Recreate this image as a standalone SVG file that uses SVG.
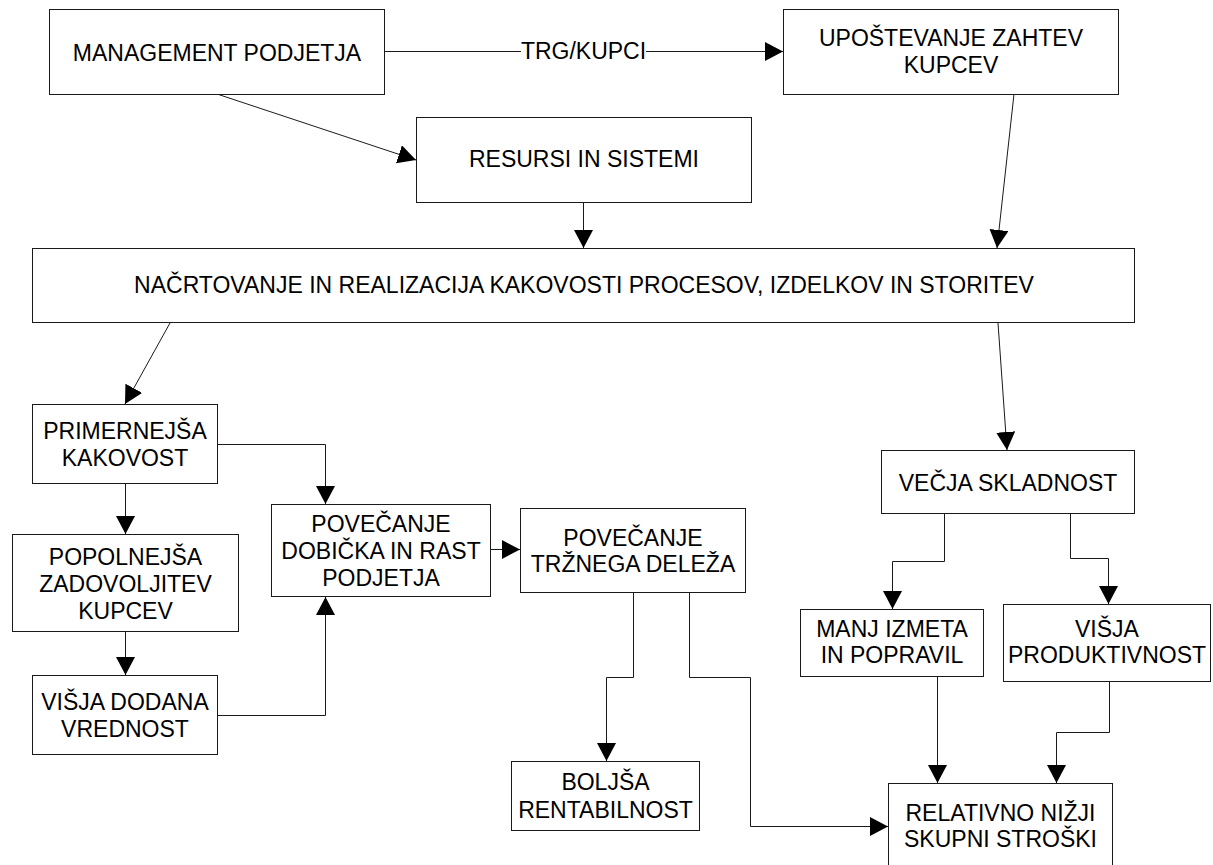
<svg xmlns="http://www.w3.org/2000/svg" width="1213" height="865" viewBox="0 0 1213 865">
<style>
.box{fill:#fff;stroke:#1a1a1a;stroke-width:1}
.t{font-family:"Liberation Sans",Arial,sans-serif;font-size:23px;fill:#000;text-anchor:middle}
.c{fill:none;stroke:#1a1a1a;stroke-width:1;marker-end:url(#ah)}
</style>
<defs>
<marker id="ah" markerUnits="userSpaceOnUse" viewBox="0 0 18 19" refX="18" refY="9.5" markerWidth="18" markerHeight="19" orient="auto">
<path d="M0,0 L18,9.5 L0,19 z" fill="#000"/>
</marker>
</defs>
<g id="connectors">
<path class="c" d="M385,51.5 H521 M646,51.5 H783"/>
<path class="c" d="M217,94 L416,160"/>
<path class="c" d="M583.5,202 V248"/>
<path class="c" d="M1014,94 L997,248"/>
<path class="c" d="M170,323 L125,404"/>
<path class="c" d="M998,323 L1007,450"/>
<path class="c" d="M125.5,484 V534"/>
<path class="c" d="M125.5,632 V675"/>
<path class="c" d="M218,444.5 H325.5 V504"/>
<path class="c" d="M218,715.5 H325.5 V597"/>
<path class="c" d="M491,549.5 H520"/>
<path class="c" d="M633.5,593 V677.5 H606.5 V761"/>
<path class="c" d="M689.5,593 V677.5 H750.5 V826.5 H888"/>
<path class="c" d="M944.5,514 V561.5 H892.5 V609"/>
<path class="c" d="M1070.5,514 V558.5 H1108.5 V604"/>
<path class="c" d="M937.5,677 V783"/>
<path class="c" d="M1109.5,682 V732.5 H1056.5 V783"/>
</g>
<text class="t" x="583.5" y="59">TRG/KUPCI</text>
<g id="n_management"><rect class="box" x="49.5" y="9.5" width="335" height="85"/><text class="t" x="217" y="61">MANAGEMENT PODJETJA</text></g>
<g id="n_upostevanje"><rect class="box" x="783.5" y="9.5" width="335" height="85"/><text class="t" x="951" y="46">UPOŠTEVANJE ZAHTEV</text><text class="t" x="951" y="73">KUPCEV</text></g>
<g id="n_resursi"><rect class="box" x="416.5" y="117.5" width="335" height="85"/><text class="t" x="584" y="167">RESURSI IN SISTEMI</text></g>
<g id="n_nacrtovanje"><rect class="box" x="32.5" y="248.5" width="1102" height="74"/><text class="t" x="584" y="293">NAČRTOVANJE IN REALIZACIJA KAKOVOSTI PROCESOV, IZDELKOV IN STORITEV</text></g>
<g id="n_primernejsa"><rect class="box" x="32.5" y="404.5" width="185" height="79"/><text class="t" x="125" y="439">PRIMERNEJŠA</text><text class="t" x="125" y="466">KAKOVOST</text></g>
<g id="n_popolnejsa"><rect class="box" x="12.5" y="534.5" width="226" height="97"/><text class="t" x="125.5" y="565">POPOLNEJŠA</text><text class="t" x="125.5" y="592">ZADOVOLJITEV</text><text class="t" x="125.5" y="619">KUPCEV</text></g>
<g id="n_visja_dodana"><rect class="box" x="32.5" y="675.5" width="185" height="79"/><text class="t" x="125" y="710">VIŠJA DODANA</text><text class="t" x="125" y="737">VREDNOST</text></g>
<g id="n_dobicek"><rect class="box" x="271.5" y="504.5" width="219" height="92"/><text class="t" x="381" y="532">POVEČANJE</text><text class="t" x="381" y="559">DOBIČKA IN RAST</text><text class="t" x="381" y="586">PODJETJA</text></g>
<g id="n_trzni_delez"><rect class="box" x="520.5" y="508.5" width="225" height="84"/><text class="t" x="633" y="546">POVEČANJE</text><text class="t" x="633" y="572">TRŽNEGA DELEŽA</text></g>
<g id="n_boljsa"><rect class="box" x="511.5" y="761.5" width="188" height="69"/><text class="t" x="605.5" y="790">BOLJŠA</text><text class="t" x="605.5" y="818">RENTABILNOST</text></g>
<g id="n_vecja"><rect class="box" x="881.5" y="450.5" width="253" height="63"/><text class="t" x="1008" y="491">VEČJA SKLADNOST</text></g>
<g id="n_manj"><rect class="box" x="800.5" y="609.5" width="183" height="67"/><text class="t" x="892" y="637">MANJ IZMETA</text><text class="t" x="892" y="663">IN POPRAVIL</text></g>
<g id="n_produktivnost"><rect class="box" x="1003.5" y="604.5" width="207" height="77"/><text class="t" x="1107" y="637">VIŠJA</text><text class="t" x="1107" y="663">PRODUKTIVNOST</text></g>
<g id="n_relativno"><rect class="box" x="888.5" y="783.5" width="224" height="90"/><text class="t" x="1000.5" y="821">RELATIVNO NIŽJI</text><text class="t" x="1000.5" y="847">SKUPNI STROŠKI</text></g>
</svg>
